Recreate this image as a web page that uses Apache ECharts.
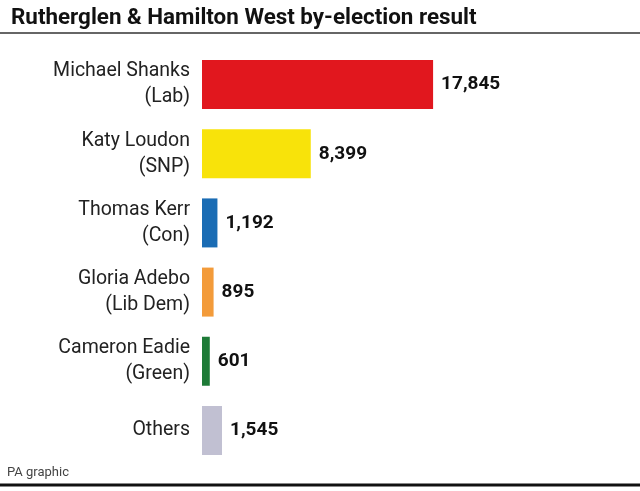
<!DOCTYPE html>
<html>
<head>
<meta charset="utf-8">
<script src="https://cdn.jsdelivr.net/npm/echarts@6/dist/echarts.min.js"></script>
<style>html,body{margin:0;padding:0;background:#fff}#c{width:640px;height:491px}</style>
</head>
<body>
<div id="c"></div>
<script>
const categories = ["Michael Shanks\n(Lab)", "Katy Loudon\n(SNP)", "Thomas Kerr\n(Con)", "Gloria Adebo\n(Lib Dem)", "Cameron Eadie\n(Green)", "Others"];
const votes = [17845, 8399, 1192, 895, 601, 1545];
const colors = ["#e1171e", "#f8e30a", "#1a6cb4", "#f39b3a", "#1e7b37", "#c1c0d2"];

const chart = echarts.init(document.getElementById('c'), null, {renderer: 'canvas'});
chart.setOption({
  animation: false,
  backgroundColor: '#fff',
  title: {
    text: 'Rutherglen & Hamilton West by-election result',
    left: 6, top: 2,
    textStyle: {fontFamily: 'Roboto', fontWeight: 'bold', fontSize: 22.4, color: '#111'}
  },
  grid: {left: 202, top: 50, width: 259, height: 415, containLabel: false},
  xAxis: {type: 'value', min: 0, max: 20000, show: false},
  yAxis: {
    type: 'category', inverse: true, data: categories,
    axisLine: {show: false}, axisTick: {show: false}, splitLine: {show: false},
    axisLabel: {margin: 12, fontFamily: 'Roboto', fontSize: 19.5, lineHeight: 26, color: '#222', align: 'right'}
  },
  series: [{
    type: 'bar',
    data: votes.map((v, i) => ({value: v, itemStyle: {color: colors[i]}})),
    barWidth: 49,
    label: {
      show: true, position: 'right', distance: 8,
      fontFamily: 'Roboto', fontWeight: 'bold', fontSize: 19, color: '#111',
      formatter: p => p.value.toLocaleString('en-GB')
    }
  }],
  graphic: [
    {type: 'line', shape: {x1: 0, y1: 33, x2: 640, y2: 33}, style: {stroke: '#333', lineWidth: 1.5}},
    {type: 'line', shape: {x1: 0, y1: 485, x2: 640, y2: 485}, style: {stroke: '#111', lineWidth: 3}},
    {type: 'text', left: 7, top: 466, style: {text: 'PA graphic', fontFamily: 'Roboto', fontSize: 13, fill: '#444'}}
  ]
});
</script>
</body>
</html>
